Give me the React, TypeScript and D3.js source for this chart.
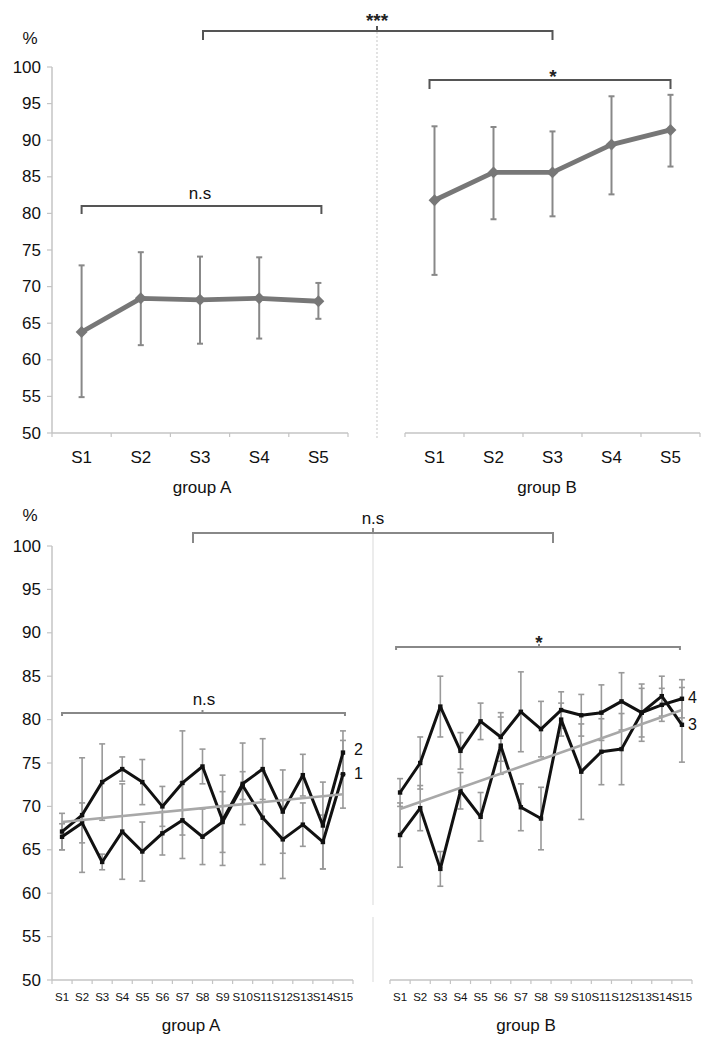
import React from 'react';
import * as d3 from 'd3';

const topCats = ['S1', 'S2', 'S3', 'S4', 'S5'];
const topAMean = [63.8, 68.4, 68.2, 68.4, 68.0];
const topAHi = [72.9, 74.7, 74.1, 74.0, 70.5];
const topALo = [54.9, 62.0, 62.2, 62.9, 65.6];
const topBMean = [81.8, 85.6, 85.6, 89.4, 91.4];
const topBHi = [91.9, 91.8, 91.2, 96.0, 96.2];
const topBLo = [71.6, 79.2, 79.6, 82.6, 86.4];

const botCats = ['S1','S2','S3','S4','S5','S6','S7','S8','S9','S10','S11','S12','S13','S14','S15'];
const series2 = [67.1, 69.0, 72.8, 74.3, 72.8, 70.0, 72.7, 74.6, 68.4, 72.6, 74.3, 69.4, 73.6, 67.8, 76.2];
const series2Err = [2.1, 6.6, 4.4, 1.4, 2.6, 2.3, 6.0, 2.0, 5.2, 4.7, 3.5, 4.8, 2.4, 5.0, 2.5];
const series1 = [66.5, 68.1, 63.6, 67.1, 64.8, 66.9, 68.4, 66.5, 68.2, 72.4, 68.7, 66.2, 67.9, 65.9, 73.7];
const series1Err = [1.5, 2.3, 0.9, 5.5, 3.4, 2.5, 4.4, 3.2, 3.5, 1.6, 5.4, 4.5, 2.5, 3.1, 3.9];
const series4 = [71.6, 75.0, 81.5, 76.4, 79.8, 78.0, 80.9, 78.9, 81.1, 80.5, 80.8, 82.1, 80.8, 81.7, 82.4];
const series4Err = [1.6, 3.0, 3.5, 2.1, 2.1, 2.8, 4.6, 3.2, 2.1, 2.4, 3.2, 3.3, 2.8, 1.9, 2.2];
const series3 = [66.7, 69.8, 62.8, 71.8, 68.8, 77.0, 69.9, 68.6, 80.0, 74.0, 76.3, 76.6, 80.8, 82.7, 79.4];
const series3Err = [3.7, 2.6, 2.0, 2.1, 2.8, 3.3, 2.7, 3.6, 1.9, 5.5, 3.8, 4.1, 3.3, 2.3, 4.3];
const trendA = [68.2, 71.4];
const trendB = [69.7, 81.1];

const yTicks = [50, 55, 60, 65, 70, 75, 80, 85, 90, 95, 100];

const FONT = 'Liberation Sans, Arial, sans-serif';

function YAxis({ y, x }: { y: d3.ScaleLinear<number, number>; x: number }) {
  return (
    <g>
      <line x1={x} x2={x} y1={y(100)} y2={y(50)} stroke="#c4c4c4" strokeWidth={1.5} />
      {yTicks.map((t) => (
        <g key={t}>
          <line x1={x - 5} x2={x} y1={y(t)} y2={y(t)} stroke="#c4c4c4" strokeWidth={1.2} />
          <text x={x - 11} y={y(t)} textAnchor="end" dominantBaseline="central" fontSize={17} fill="#111" fontFamily={FONT}>{t}</text>
        </g>
      ))}
    </g>
  );
}

function XAxis({ xb, y0, fs, labelY }: { xb: d3.ScaleBand<string>; y0: number; fs: number; labelY: number }) {
  const [r0, r1] = xb.range();
  const dom = xb.domain();
  const bounds = dom.map((c) => xb(c) as number).concat([r1]);
  return (
    <g>
      <line x1={r0} x2={r1} y1={y0} y2={y0} stroke="#c4c4c4" strokeWidth={1.5} />
      {bounds.map((b, i) => (
        <line key={i} x1={b} x2={b} y1={y0} y2={y0 + 4} stroke="#c4c4c4" strokeWidth={1.2} />
      ))}
      {dom.map((c) => (
        <text key={c} x={(xb(c) as number) + xb.bandwidth() / 2} y={labelY} textAnchor="middle" dominantBaseline="central" fontSize={fs} fill="#111" fontFamily={FONT}>{c}</text>
      ))}
    </g>
  );
}

function TopPanel({ xb, y, mean, hi, lo }: any) {
  const cx = (i: number) => (xb(topCats[i]) as number) + xb.bandwidth() / 2;
  const line = d3.line<number>().x((_, i) => cx(i)).y((d) => y(d));
  return (
    <g>
      {mean.map((_: number, i: number) => (
        <g key={i} stroke="#888" strokeWidth={2}>
          <line x1={cx(i)} x2={cx(i)} y1={y(hi[i])} y2={y(lo[i])} />
          <line x1={cx(i) - 3} x2={cx(i) + 3} y1={y(hi[i])} y2={y(hi[i])} />
          <line x1={cx(i) - 3} x2={cx(i) + 3} y1={y(lo[i])} y2={y(lo[i])} />
        </g>
      ))}
      <path d={line(mean) as string} fill="none" stroke="#777" strokeWidth={4.8} strokeLinejoin="round" />
      {mean.map((m: number, i: number) => (
        <path key={i} d={d3.symbol(d3.symbolDiamond2, 90)() as string} transform={`translate(${cx(i)},${y(m)})`} fill="#777" />
      ))}
    </g>
  );
}

function BotPanel({ xb, y, sa, ea, sb, eb, trend }: any) {
  const cx = (i: number) => (xb(botCats[i]) as number) + xb.bandwidth() / 2;
  const line = d3.line<number>().x((_, i) => cx(i)).y((d) => y(d));
  const n = botCats.length;
  const errs = (s: number[], e: number[], k: string) =>
    s.map((v, i) => (
      <g key={k + i} stroke="#999" strokeWidth={1.6}>
        <line x1={cx(i)} x2={cx(i)} y1={y(v + e[i])} y2={y(v - e[i])} />
        <line x1={cx(i) - 3} x2={cx(i) + 3} y1={y(v + e[i])} y2={y(v + e[i])} />
        <line x1={cx(i) - 3} x2={cx(i) + 3} y1={y(v - e[i])} y2={y(v - e[i])} />
      </g>
    ));
  const marks = (s: number[], k: string) =>
    s.map((v, i) => <rect key={k + i} x={cx(i) - 2.2} y={y(v) - 2.2} width={4.4} height={4.4} fill="#111" />);
  return (
    <g>
      {errs(sa, ea, 'a')}
      {errs(sb, eb, 'b')}
      <path d={line(sa) as string} fill="none" stroke="#111" strokeWidth={3} strokeLinejoin="round" />
      <path d={line(sb) as string} fill="none" stroke="#111" strokeWidth={3} strokeLinejoin="round" />
      {marks(sa, 'ma')}
      {marks(sb, 'mb')}
      <line x1={cx(0)} x2={cx(n - 1)} y1={y(trend[0])} y2={y(trend[1])} stroke="#a8a8a8" strokeWidth={2.6} />
    </g>
  );
}

export default function App() {
  const yTop = d3.scaleLinear().domain([50, 100]).range([433, 67]);
  const xTA = d3.scaleBand<string>().domain(topCats).range([52, 348]);
  const xTB = d3.scaleBand<string>().domain(topCats).range([405, 700]);
  const yBot = d3.scaleLinear().domain([50, 100]).range([980, 546]);
  const xBA = d3.scaleBand<string>().domain(botCats).range([52, 353]);
  const xBB = d3.scaleBand<string>().domain(botCats).range([390, 692]);
  const cT = (xb: d3.ScaleBand<string>, c: string) => (xb(c) as number) + xb.bandwidth() / 2;

  const tA1 = cT(xTA, 'S1'), tA3 = cT(xTA, 'S3'), tA5 = cT(xTA, 'S5');
  const tB1 = cT(xTB, 'S1'), tB3 = cT(xTB, 'S3'), tB5 = cT(xTB, 'S5');
  const bA1 = cT(xBA, 'S1'), bA15 = cT(xBA, 'S15');
  const bB1 = cT(xBB, 'S1'), bB15 = cT(xBB, 'S15');

  return (
    <svg width={714} height={1046} style={{ position: 'absolute', left: 0, top: 0, background: '#fff' }} fontFamily={FONT}>
      <rect width={714} height={1046} fill="#fff" />
      {/* ---------- top chart ---------- */}
      <text x={30} y={38} textAnchor="middle" dominantBaseline="central" fontSize={17} fill="#111">%</text>
      <line x1={377} x2={377} y1={28} y2={440} stroke="#d0d0d0" strokeWidth={1.2} strokeDasharray="2,2" />
      <YAxis y={yTop} x={52} />
      <XAxis xb={xTA} y0={433} fs={17} labelY={457} />
      <XAxis xb={xTB} y0={433} fs={17} labelY={457} />
      <text x={202} y={487} textAnchor="middle" dominantBaseline="central" fontSize={17} fill="#111">group A</text>
      <text x={547} y={487} textAnchor="middle" dominantBaseline="central" fontSize={17} fill="#111">group B</text>
      <TopPanel xb={xTA} y={yTop} mean={topAMean} hi={topAHi} lo={topALo} />
      <TopPanel xb={xTB} y={yTop} mean={topBMean} hi={topBHi} lo={topBLo} />
      {/* brackets */}
      <g fill="none" stroke="#555" strokeWidth={2}>
        <path d={`M${tA3 + 3},40 V31 H${tB3} V40`} />
        <path d="M377,31 V26" />
        <path d={`M${tA1},214 V206 H${tA5 + 3} V214`} />
        <path d={`M${tB1 - 5},89 V80 H${tB5} V89`} />
      </g>
      <text x={377} y={20} textAnchor="middle" dominantBaseline="central" fontSize={19} fontWeight="bold" fill="#222">***</text>
      <text x={200} y={193} textAnchor="middle" dominantBaseline="central" fontSize={17} fill="#111">n.s</text>
      <text x={553} y={76} textAnchor="middle" dominantBaseline="central" fontSize={19} fontWeight="bold" fill="#222">*</text>

      {/* ---------- bottom chart ---------- */}
      <text x={30} y={515} textAnchor="middle" dominantBaseline="central" fontSize={17} fill="#111">%</text>
      <line x1={373} x2={373} y1={528} y2={905} stroke="#e0e0e0" strokeWidth={1.2} />
      <line x1={373} x2={373} y1={917} y2={982} stroke="#e0e0e0" strokeWidth={1.2} />
      <YAxis y={yBot} x={52} />
      <XAxis xb={xBA} y0={980} fs={11.5} labelY={997} />
      <XAxis xb={xBB} y0={980} fs={11.5} labelY={997} />
      <text x={191} y={1025} textAnchor="middle" dominantBaseline="central" fontSize={17} fill="#111">group A</text>
      <text x={526} y={1025} textAnchor="middle" dominantBaseline="central" fontSize={17} fill="#111">group B</text>
      <BotPanel xb={xBA} y={yBot} sa={series2} ea={series2Err} sb={series1} eb={series1Err} trend={trendA} />
      <BotPanel xb={xBB} y={yBot} sa={series4} ea={series4Err} sb={series3} eb={series3Err} trend={trendB} />
      <g fill="none" stroke="#888" strokeWidth={2}>
        <path d="M193,543 V533 H553 V543" />
        <path d="M373,533 V528" />
        <path d={`M${bA1},716 V713 H${bA15 + 2} V716`} />
        <path d={`M${bA1 + (bA15 - bA1) / 2},713 V710`} />
        <path d={`M${bB1 - 4},650 V647 H${bB15 - 2} V650`} />
        <path d={`M${bB1 + (bB15 - bB1) / 2 - 2},647 V644`} />
      </g>
      <text x={373} y={518} textAnchor="middle" dominantBaseline="central" fontSize={17} fill="#111">n.s</text>
      <text x={204} y={699} textAnchor="middle" dominantBaseline="central" fontSize={17} fill="#111">n.s</text>
      <text x={539} y={642} textAnchor="middle" dominantBaseline="central" fontSize={19} fontWeight="bold" fill="#222">*</text>
      <text x={354} y={749} dominantBaseline="central" fontSize={16} fill="#111">2</text>
      <text x={354} y={773} dominantBaseline="central" fontSize={16} fill="#111">1</text>
      <text x={688} y={697} dominantBaseline="central" fontSize={16} fill="#111">4</text>
      <text x={688} y={724} dominantBaseline="central" fontSize={16} fill="#111">3</text>
    </svg>
  );
}
